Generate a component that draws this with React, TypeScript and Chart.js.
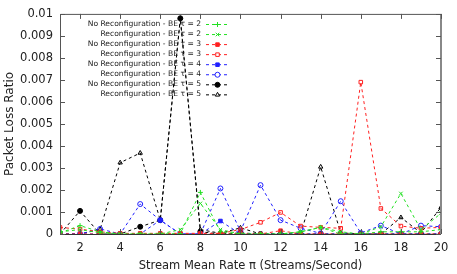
import React, { useEffect, useRef } from 'react';
import { Chart, registerables } from 'chart.js';
import { drawPoint } from 'chart.js/helpers';

Chart.register(...registerables);

const rates = [1, 2, 3, 4, 5, 6, 7, 8, 9, 10, 11, 12, 13, 14, 15, 16, 17, 18, 19, 20];
const xTicks = [2, 4, 6, 8, 10, 12, 14, 16, 18, 20];
const yTicks = [0, 0.001, 0.002, 0.003, 0.004, 0.005, 0.006, 0.007, 0.008, 0.009, 0.01];
const yTickLabels = ['0', '0.001', '0.002', '0.003', '0.004', '0.005', '0.006', '0.007', '0.008', '0.009', '0.01'];

const seriesLabels = [
  'No Reconfiguration - BE τ = 2',
  'Reconfiguration - BE τ = 2',
  'No Reconfiguration - BE τ = 3',
  'Reconfiguration - BE τ = 3',
  'No Reconfiguration - BE τ = 4',
  'Reconfiguration - BE τ = 4',
  'No Reconfiguration - BE τ = 5',
  'Reconfiguration - BE τ = 5',
];

const noReconfTau2 = [0.00005, 0.00038, 0.0001, 0, 0, 0, 0.00002, 0.00189, 0.0001, 0, 0, 0, 0.0001, 0.0003, 0, 0, 0.0001, 0.0001, 0.0001, 0.0002];
const reconfTau2 = [0.0001, 0.0002, 0.00005, 0, 0, 0, 0.0002, 0.00139, 0.0002, 0, 0, 0, 0.0001, 0.0003, 0.0001, 0, 0.00033, 0.00184, 0.0002, 0.00094];
const noReconfTau3 = [0, 0, 0, 0, 0, 0, 0, 0, 0, 0, 0, 0.00015, 0, 0, 0, 0, 0, 0, 0, 0];
const reconfTau3 = [0.0003, 0.00022, 0.0001, 0.00003, 0.00003, 0.00003, 0.00003, 0.00003, 0.00003, 0.0002, 0.00053, 0.00098, 0.00036, 0.0003, 0.00026, 0.0069, 0.00116, 0.00036, 0.00026, 0.0003];
const noReconfTau4 = [0, 0, 0, 0, 0, 0.00063, 0, 0, 0.00059, 0, 0, 0, 0, 0, 0, 0, 0, 0, 0, 0];
const reconfTau4 = [0, 0, 0.00023, 0, 0.00136, 0.00063, 0, 0, 0.00207, 0.00013, 0.00222, 0.00063, 0.00026, 0.00003, 0.00149, 0.00005, 0.00038, 0, 0.00038, 0.00033];
const noReconfTau5 = [0, 0.00105, 0, 0, 0.00033, 0.00063, 0.0098, 0.0001, 0, 0.00005, 0, 0, 0, 0, 0, 0, 0, 0, 0, 0];
const reconfTau5 = [0, 0, 0.00021, 0.00324, 0.00368, 0.00063, 0.0098, 0.0002, 0.00003, 0.00028, 0, 0, 0, 0.00305, 0.00005, 0, 0, 0.00075, 0.00005, 0.00121];

const seriesValues = [noReconfTau2, reconfTau2, noReconfTau3, reconfTau3, noReconfTau4, reconfTau4, noReconfTau5, reconfTau5];
const seriesColors = ['#22e022', '#22e022', '#ff2020', '#ff2020', '#2020ff', '#2020ff', '#000000', '#000000'];
const seriesPoints = ['cross', 'crossRot', 'rect', 'rect', 'rect', 'circle', 'circle', 'triangle'];
const seriesFilled = [false, false, true, false, true, false, true, false];

const FONT = 'DejaVu Sans';
const TEXT = '#222222';

const framePlugin = {
  id: 'frameAndLegend',
  afterDraw(chart: any) {
    const ctx = chart.ctx;
    const { left, right, top, bottom } = chart.chartArea;
    const xs = chart.scales.x;
    const ys = chart.scales.y;
    ctx.save();
    ctx.strokeStyle = '#555555';
    ctx.lineWidth = 1;
    ctx.beginPath();
    ctx.moveTo(left + 0.5, bottom);
    ctx.lineTo(left + 0.5, top + 0.5);
    ctx.lineTo(right, top + 0.5);
    ctx.stroke();
    ctx.strokeStyle = '#888888';
    ctx.lineWidth = 2;
    ctx.beginPath();
    ctx.moveTo(right, top);
    ctx.lineTo(right, bottom);
    ctx.stroke();
    ctx.strokeStyle = '#333333';
    ctx.lineWidth = 1;
    ctx.beginPath();
    ctx.moveTo(left, bottom + 0.5);
    ctx.lineTo(right, bottom + 0.5);
    ctx.stroke();
    ctx.strokeStyle = '#555555';
    ctx.lineWidth = 1;
    ctx.beginPath();
    xTicks.forEach((v) => {
      const px = Math.round(xs.getPixelForValue(v)) + 0.5;
      ctx.moveTo(px, bottom);
      ctx.lineTo(px, bottom - 5);
      ctx.moveTo(px, top);
      ctx.lineTo(px, top + 5);
    });
    yTicks.forEach((v) => {
      const py = Math.round(ys.getPixelForValue(v)) + 0.5;
      ctx.moveTo(left, py);
      ctx.lineTo(left + 5, py);
      ctx.moveTo(right, py);
      ctx.lineTo(right - 5, py);
    });
    ctx.stroke();
    ctx.font = `7.6px "${FONT}"`;
    ctx.textAlign = 'right';
    ctx.textBaseline = 'middle';
    seriesLabels.forEach((label, i) => {
      const y = 24 + i * 10.05;
      ctx.fillStyle = TEXT;
      ctx.fillText(label, 201, y);
      ctx.strokeStyle = seriesColors[i];
      ctx.lineWidth = 1;
      ctx.setLineDash([3, 3]);
      ctx.beginPath();
      ctx.moveTo(206, y + 0.5);
      ctx.lineTo(229, y + 0.5);
      ctx.stroke();
      ctx.setLineDash([]);
      ctx.fillStyle = seriesFilled[i] ? seriesColors[i] : '#ffffff';
      drawPoint(ctx, { pointStyle: seriesPoints[i], radius: 2.5, borderWidth: 1, rotation: 0 }, 217.5, y + 0.5);
    });
    ctx.restore();
  },
};

export default function App() {
  const ref = useRef<HTMLCanvasElement | null>(null);
  useEffect(() => {
    if (!ref.current) return;
    const chart = new Chart(ref.current, {
      type: 'line',
      data: {
        datasets: seriesValues.map((vals, i) => ({
          label: seriesLabels[i],
          data: rates.map((r, j) => ({ x: r, y: vals[j] })),
          borderColor: seriesColors[i],
          backgroundColor: seriesFilled[i] ? seriesColors[i] : 'rgba(0,0,0,0)',
          borderWidth: 1,
          borderDash: [3, 3],
          pointStyle: seriesPoints[i] as any,
          pointRadius: 2.5,
          pointBorderWidth: 1,
          pointBorderColor: seriesColors[i],
          pointBackgroundColor: seriesFilled[i] ? seriesColors[i] : 'rgba(0,0,0,0)',
          tension: 0,
          fill: false,
        })),
      },
      options: {
        responsive: false,
        animation: false,
        layout: { padding: { top: 13, right: 16, left: 0, bottom: 0 } },
        plugins: { legend: { display: false }, tooltip: { enabled: false } },
        scales: {
          x: {
            type: 'linear',
            min: 1,
            max: 20,
            afterBuildTicks: (s: any) => {
              s.ticks = xTicks.map((v) => ({ value: v }));
            },
            afterFit: (s: any) => {
              s.height = 40;
            },
            grid: { display: false, drawTicks: false },
            border: { display: false },
            ticks: { font: { family: FONT, size: 11.5 }, color: TEXT, padding: 7, maxRotation: 0, autoSkip: false },
            title: {
              display: true,
              text: 'Stream Mean Rate π (Streams/Second)',
              font: { family: FONT, size: 11.5 },
              color: TEXT,
              padding: { top: 0, bottom: 1 },
            },
          },
          y: {
            type: 'linear',
            min: 0,
            max: 0.01,
            afterBuildTicks: (s: any) => {
              s.ticks = yTicks.map((v) => ({ value: v }));
            },
            afterFit: (s: any) => {
              s.width = 60;
            },
            grid: { display: false, drawTicks: false },
            border: { display: false },
            ticks: {
              font: { family: FONT, size: 11.5 },
              color: TEXT,
              padding: 7,
              autoSkip: false,
              callback: (_v: any, i: number) => yTickLabels[i],
            },
            title: {
              display: true,
              text: 'Packet Loss Ratio',
              font: { family: FONT, size: 12 },
              color: TEXT,
              padding: { top: 3, bottom: 0 },
            },
          },
        },
      },
      plugins: [framePlugin],
    });
    return () => chart.destroy();
  }, []);
  return (
    <div style={{ position: 'absolute', left: 0, top: 0, width: 457, height: 274, background: '#ffffff' }}>
      <canvas ref={ref} width={457} height={274} />
    </div>
  );
}
